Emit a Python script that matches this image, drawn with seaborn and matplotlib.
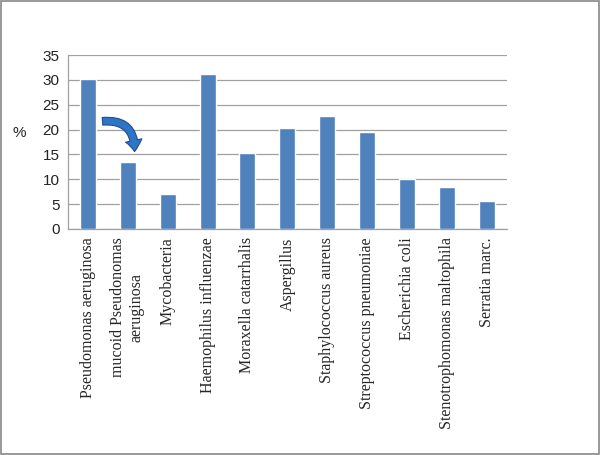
import matplotlib
matplotlib.use("Agg")
import matplotlib.pyplot as plt
import seaborn as sns
import pandas as pd
from matplotlib.patches import FancyArrowPatch

# data
organisms = ["Pseudomonas aeruginosa", "mucoid Pseudonomas\naeruginosa", "Mycobacteria",
             "Haemophilus influenzae", "Moraxella catarrhalis", "Aspergillus",
             "Staphylococcus aureus", "Streptococcus pneumoniae", "Escherichia coli",
             "Stenotrophomonas maltophila", "Serratia marc."]
percent = [30.2, 13.5, 7.0, 31.1, 15.2, 20.4, 22.8, 19.5, 10.0, 8.5, 5.6]

df = pd.DataFrame({"organism": organisms, "percent": percent})

sns.set_style("white")
fig = plt.figure(figsize=(6, 4.55), dpi=100)
ax = fig.add_axes([0.113, 0.497, 0.732, 0.382])

sns.barplot(data=df, x="organism", y="percent", color="#4F81BD", width=0.4,
            saturation=1, ax=ax, zorder=3)

ax.set_ylim(0, 35)
ax.set_yticks(range(0, 36, 5))
ax.set_xlim(-0.5, len(organisms) - 0.5)
ax.yaxis.grid(True, color="#A0A0A0", linewidth=0.9, zorder=0)
ax.set_axisbelow(True)
for s in ["top", "right"]:
    ax.spines[s].set_visible(False)
for s in ["left", "bottom"]:
    ax.spines[s].set_color("#A0A0A0")
    ax.spines[s].set_linewidth(0.9)

ax.set_xlabel("")
ax.set_ylabel("%", rotation=0, fontsize=11, family="Liberation Sans", va="center", ha="center")
ax.yaxis.set_label_coords(-0.11, 0.55)
ax.tick_params(axis="y", labelsize=11, length=0, pad=6)
ax.tick_params(axis="x", length=0, pad=6)
for t in ax.get_yticklabels():
    t.set_family("Liberation Sans")
    t.set_color("#222222")
ax.set_xticks(range(len(organisms)))
ax.set_xticklabels(organisms, rotation=90, family="Liberation Serif", fontsize=11.5,
                   va="top", ha="center", multialignment="center")

# curved arrow
arrow = FancyArrowPatch((0.3, 21.6), (1.17, 15.0), connectionstyle="arc3,rad=-0.6",
                        arrowstyle="simple,head_width=12,head_length=8,tail_width=5.5",
                        facecolor="#2E75C8", edgecolor="#1F4E8C", linewidth=0.8, zorder=5)
ax.add_patch(arrow)

# outer frame
fig.patches.append(plt.Rectangle((0.002, 0.002), 0.996, 0.996, transform=fig.transFigure,
                                 fill=False, edgecolor="#888888", linewidth=1.2))

fig.savefig("out.png", dpi=100)
